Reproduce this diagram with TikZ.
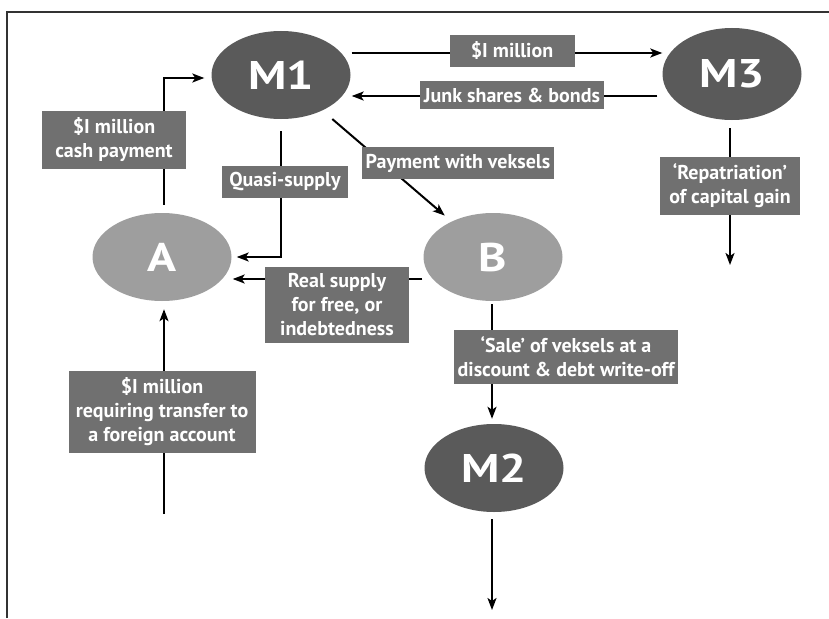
\documentclass[tikz,border=0pt]{standalone}
\usepackage{xcolor}
\usepackage{fontspec}
\setmainfont{PT Sans}
\newfontfamily\ovalfont[FakeStretch=1.2]{PT Sans}
\usepackage{tikz}
\usetikzlibrary{positioning,arrows.meta,shapes.geometric,calc}
\definecolor{shelldark}{HTML}{5A5A5A}
\definecolor{firmlight}{HTML}{9E9E9E}
\definecolor{flowbox}{HTML}{707070}
\tikzset{
    scheme_shell/.style={ellipse, fill=shelldark, text=white, minimum width=139pt, minimum height=88pt,
        inner sep=0pt, font=\ovalfont\bfseries\fontsize{40}{40}\selectfont},
    % A and B: the lighter ovals
    scheme_firm/.style={scheme_shell, fill=firmlight},
    scheme_label/.style={fill=flowbox, text=white, align=center, inner xsep=4pt, inner ysep=7pt,
        font=\bfseries\fontsize{20}{24}\selectfont},
    scheme_flow/.style={line width=2pt, -{Stealth[length=12pt,width=9pt,inset=3pt]}},
    scheme_frame/.style={line width=1.2pt, black!80},
}

\begin{document}
\begin{tikzpicture}[x=1pt, y=-1pt]
        \useasboundingbox (0,0) rectangle (829,618);
        \draw[scheme_frame] (7,618) -- (7,12) -- (829,12);

        % Row 1: M1 and M3
        \node[scheme_shell] (m1) at (281,75) {M1};
        \node[scheme_shell, minimum height=92pt] (m3) at (732,74) {M3};

        % Row 2: A and B
        \node[scheme_firm] (a) at (162,257) {A};
        \node[scheme_firm] (b) at (493,257) {B};

        % Row 3: M2
        \node[scheme_shell] (m2) at (494,468) {M2};

        % Loose ends
        \coordinate (m3out) at (730,265);
        \coordinate (m2out) at (492,610);
        \coordinate (ain)   at (164,514);

        % Flows
        \draw[scheme_flow, shorten <=8pt, shorten >=7pt] ([xshift=2pt]a.north) |- ([yshift=-3pt]m1.west);
        \draw[scheme_flow, shorten <=12pt, shorten >=5pt] (m1.south) |- (a.east);
        \draw[scheme_flow, shorten <=13pt, shorten >=9pt] (m1) -- (b);
        \draw[scheme_flow, shorten <=1pt] ([yshift=22pt]m1.east) -- ([yshift=22pt]m1.east -| m3.west);
        \draw[scheme_flow, shorten <=5pt, shorten >=1pt] ([yshift=-22pt]m3.west) -- ([yshift=-22pt]m3.west -| m1.east);
        \draw[scheme_flow, shorten <=8pt] ([xshift=-2pt]m3.south) -- (m3out);
        \draw[scheme_flow, shorten <=1pt, shorten >=1pt] ([yshift=-22pt]b.west) -- ([yshift=-22pt]b.west -| a.east);
        \draw[scheme_flow, shorten <=3pt, shorten >=5pt] ([xshift=-1pt]b.south) -- ([xshift=-1pt]b.south |- m2.north);
        \draw[scheme_flow, shorten <=7pt] ([xshift=-2pt]m2.south) -- (m2out);
        \draw[scheme_flow, shorten >=8pt] (ain) -- (ain |- a.south);

        % Labels on the flows
        \node[scheme_label, minimum width=144pt] (cashlbl)   at (114,140) {\$I million\\cash payment};
        \node[scheme_label, minimum width=126pt] (quasilbl)  at (285,182) {Quasi-supply};
        \node[scheme_label, minimum width=192pt] (vekslbl)   at (458,163) {Payment with veksels};
        \node[scheme_label, minimum width=125pt] (milllbl)   at (512,51)  {\$I million};
        \node[scheme_label, minimum width=181pt] (junklbl)   at (512,95)  {Junk shares \& bonds};
        \node[scheme_label, minimum width=140pt] (repatlbl)  at (730,186) {‘Repatriation’\\of capital gain};
        \node[scheme_label, minimum width=144pt] (reallbl)   at (337,305) {Real supply\\for free, or\\indebtedness};
        \node[scheme_label, minimum width=187pt] (transflbl) at (162,412) {\$I million\\requiring transfer to\\a foreign account};
        \node[scheme_label, minimum width=223pt] (salelbl)   at (566,357) {‘Sale’ of veksels at a\\discount \& debt write-off};
    \end{tikzpicture}
\end{document}
